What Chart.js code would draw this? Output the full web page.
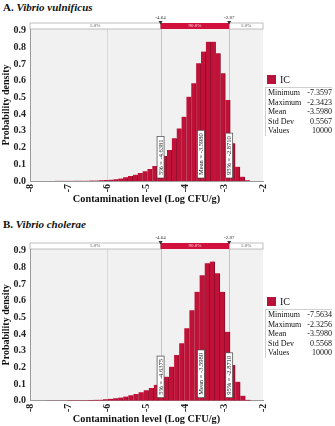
<!DOCTYPE html>
<html>
<head>
<meta charset="utf-8">
<script src="https://cdn.jsdelivr.net/npm/chart.js@4.4.1/dist/chart.umd.min.js"></script>
<style>
  body { margin: 0; width: 335px; height: 426px; position: relative; overflow: hidden; background: #fff;
         font-family: "Liberation Serif", "Times New Roman", serif; color: #111; }
  canvas { position: absolute; left: 0; }
  .ttl { position: absolute; left: 3px; font-weight: bold; font-size: 11px; line-height: 13px; }
  .ttl i { font-style: italic; }
  .leg { position: absolute; left: 267px; font-size: 10px; line-height: 10px; }
  .leg span { display: inline-block; width: 9px; height: 9px; background: #b8123a; vertical-align: -1px; margin-right: 4px; }
  .stats { position: absolute; left: 265px; width: 67px; box-sizing: border-box; border-top: 1px solid #d0d0d0;
           border-left: 1px solid #d0d0d0; font-size: 8px; line-height: 9.6px; padding-left: 2px; }
  .stats div { display: flex; justify-content: space-between; }
</style>
</head>
<body>
<div class="ttl" style="top:1px">A. <i>Vibrio vulnificus</i></div>
<canvas id="chartA" width="335" height="212" style="top:0"></canvas>
<div class="leg" style="top:75px"><span></span>IC</div>
<div class="stats" id="statsA" style="top:87px"></div>

<div class="ttl" style="top:218px">B. <i>Vibrio cholerae</i></div>
<canvas id="chartB" width="335" height="208" style="top:218px"></canvas>
<div class="leg" style="top:297px"><span></span>IC</div>
<div class="stats" id="statsB" style="top:309px"></div>

<script>
// --- data ---
const xRange = [-8, -2];
const statNames = ["Minimum", "Maximum", "Mean", "Std Dev", "Values"];

// A. Vibrio vulnificus (bin centres, density)
const vvBins = [-7.297, -7.172, -7.046, -6.921, -6.795, -6.670, -6.544, -6.419, -6.294, -6.168,
                -6.043, -5.917, -5.792, -5.666, -5.541, -5.415, -5.290, -5.165, -5.039, -4.914,
                -4.788, -4.663, -4.537, -4.412, -4.286, -4.161, -4.036, -3.910, -3.785, -3.659,
                -3.534, -3.408, -3.283, -3.157, -3.032, -2.906, -2.781, -2.656, -2.530, -2.405];
const vvDensity = [0.001, 0.001, 0.001, 0.001, 0.002, 0.002, 0.002, 0.003, 0.003, 0.004,
                   0.006, 0.008, 0.011, 0.015, 0.022, 0.030, 0.038, 0.048, 0.058, 0.072,
                   0.090, 0.120, 0.150, 0.186, 0.256, 0.315, 0.385, 0.505, 0.585, 0.705,
                   0.775, 0.834, 0.834, 0.765, 0.645, 0.485, 0.226, 0.086, 0.026, 0.004];
const vvMarks = [-4.6381, -3.5980, -2.8710];
const vvMarkText = ["5% = -4.6381", "Mean = -3.5980", "95% = -2.8710"];
const vvStats = ["-7.3597", "-2.3423", "-3.5980", "0.5567", "10000"];

// B. Vibrio cholerae
const vcBins = [-7.498, -7.367, -7.236, -7.105, -6.974, -6.843, -6.712, -6.581, -6.450, -6.319,
                -6.188, -6.057, -5.926, -5.795, -5.665, -5.534, -5.403, -5.272, -5.141, -5.010,
                -4.879, -4.748, -4.617, -4.486, -4.355, -4.224, -4.093, -3.962, -3.831, -3.700,
                -3.569, -3.438, -3.307, -3.176, -3.045, -2.914, -2.783, -2.652, -2.521, -2.390];
const vcDensity = [0.001, 0.001, 0.001, 0.001, 0.002, 0.002, 0.002, 0.003, 0.004, 0.005,
                   0.006, 0.008, 0.011, 0.014, 0.019, 0.025, 0.032, 0.040, 0.050, 0.062,
                   0.076, 0.095, 0.120, 0.144, 0.204, 0.274, 0.344, 0.434, 0.543, 0.653,
                   0.753, 0.825, 0.835, 0.765, 0.653, 0.413, 0.214, 0.114, 0.030, 0.005];
const vcMarks = [-4.6375, -3.5980, -2.8710];
const vcMarkText = ["5% = -4.6375", "Mean = -3.5980", "95% = -2.8710"];
const vcStats = ["-7.5634", "-2.3256", "-3.5980", "0.5568", "10000"];

const bandTicks = ["-4.64", "-2.87"];
const bandPct = ["5.0%", "90.0%", "5.0%"];

const serif = "'Liberation Serif', 'Times New Roman', serif";

function fillStats(id, vals) {
  document.getElementById(id).innerHTML = statNames
    .map((n, i) => `<div><span>${n}</span><span>${vals[i]}</span></div>`).join("");
}
fillStats("statsA", vvStats);
fillStats("statsB", vcStats);

// band on top, percentile lines, rotated value boxes
const overlay = {
  id: "overlay",
  beforeDraw(chart) {
    const { ctx, chartArea: a } = chart;
    ctx.save();
    ctx.fillStyle = "#f1f1f1";
    ctx.fillRect(a.left, a.top, a.right - a.left, a.bottom - a.top);
    ctx.restore();
  },
  beforeDatasetsDraw(chart, args, o) {
    const { ctx, chartArea: a, scales: { x } } = chart;
    ctx.save();
    ctx.strokeStyle = "#c4c4c4";
    ctx.lineWidth = 1;
    [o.marks[0], o.marks[2]].forEach(v => {
      const px = Math.round(x.getPixelForValue(v)) + 0.5;
      ctx.beginPath();
      ctx.moveTo(px, a.top);
      ctx.lineTo(px, a.bottom);
      ctx.stroke();
    });
    ctx.restore();
  },
  afterDatasetsDraw(chart, args, o) {
    const { ctx, chartArea: a, scales: { x } } = chart;
    const x5 = x.getPixelForValue(o.marks[0]);
    const x95 = x.getPixelForValue(o.marks[2]);
    const top = a.top - 6, h = 6;
    ctx.save();
    ctx.lineWidth = 0.8;
    ctx.fillStyle = "#fff";
    ctx.strokeStyle = "#b0b0b0";
    ctx.fillRect(a.left, top, x5 - a.left, h);
    ctx.strokeRect(a.left, top, x5 - a.left, h);
    ctx.fillRect(x95, top, a.right - x95, h);
    ctx.strokeRect(x95, top, a.right - x95, h);
    ctx.fillStyle = "#d1103b";
    ctx.fillRect(x5, top, x95 - x5, h);

    ctx.font = "5px " + serif;
    ctx.textAlign = "center";
    ctx.textBaseline = "middle";
    ctx.fillStyle = "#555";
    ctx.fillText(o.pct[0], (a.left + x5) / 2, top + h / 2);
    ctx.fillText(o.pct[2], (x95 + a.right) / 2, top + h / 2);
    ctx.fillStyle = "#fbd9e0";
    ctx.fillText(o.pct[1], (x5 + x95) / 2, top + h / 2);

    [x5, x95].forEach((px, i) => {
      ctx.fillStyle = "#333";
      ctx.beginPath();
      ctx.moveTo(px - 2, top - 2);
      ctx.lineTo(px + 2, top - 2);
      ctx.lineTo(px, top + 1.5);
      ctx.fill();
      ctx.fillText(o.ticks[i], px, top - 5);
    });

    // rotated value boxes
    ctx.font = "6.5px " + serif;
    o.marks.forEach((v, i) => {
      const px = x.getPixelForValue(v);
      const w = ctx.measureText(o.labels[i]).width + 6;
      ctx.save();
      ctx.translate(px, a.bottom - 3);
      ctx.rotate(-Math.PI / 2);
      ctx.fillStyle = "#fff";
      ctx.fillRect(0, -3.5, w, 7);
      ctx.strokeStyle = "#444";
      ctx.lineWidth = 0.7;
      ctx.strokeRect(0, -3.5, w, 7);
      ctx.fillStyle = "#111";
      ctx.textAlign = "left";
      ctx.textBaseline = "middle";
      ctx.fillText(o.labels[i], 3, 0.4);
      ctx.restore();
    });
    ctx.restore();
  }
};

function makeChart(id, bins, dens, marks, markText, padTop, padBottom) {
  return new Chart(document.getElementById(id), {
    type: "bar",
    data: {
      datasets: [{
        label: "IC",
        data: bins.map((b, i) => ({ x: b, y: dens[i] })),
        backgroundColor: "#c01238",
        borderColor: "#8c0b2a",
        borderWidth: { top: 0, right: 1, bottom: 0, left: 0 },
        barPercentage: 1,
        categoryPercentage: 1
      }]
    },
    options: {
      responsive: false,
      animation: false,
      layout: { padding: { top: padTop, right: 72, bottom: padBottom, left: 0 } },
      plugins: {
        legend: { display: false },
        tooltip: { enabled: false },
        overlay: { marks: marks, labels: markText, ticks: bandTicks, pct: bandPct }
      },
      scales: {
        x: {
          type: "linear",
          offset: false,
          min: xRange[0],
          max: xRange[1],
          afterFit: s => { s.height = 25; },
          grid: {
            offset: false,
            color: c => (c.tick && c.tick.value === -6 ? "#d8d8d8" : "rgba(0,0,0,0)"),
            drawTicks: false
          },
          border: { display: true, color: "#9a9a9a" },
          ticks: {
            stepSize: 1,
            autoSkip: false,
            minRotation: 90,
            maxRotation: 90,
            padding: 3,
            color: "#222",
            font: { family: serif, size: 10, weight: "bold" }
          },
          title: {
            display: true,
            text: "Contamination level (Log CFU/g)",
            padding: 0,
            color: "#111",
            font: { family: serif, size: 10.3, weight: "bold" }
          }
        },
        y: {
          min: 0,
          max: 0.91,
          afterFit: s => { s.width = 30; },
          grid: { display: false, drawTicks: false },
          border: { display: true, color: "#9a9a9a" },
          ticks: {
            stepSize: 0.1,
            includeBounds: false,
            padding: 4,
            color: "#222",
            font: { family: serif, size: 10, weight: "bold" },
            callback: v => v.toFixed(1)
          },
          title: {
            display: true,
            text: "Probability density",
            padding: 0,
            color: "#111",
            font: { family: serif, size: 10, weight: "bold" }
          }
        }
      }
    },
    plugins: [overlay]
  });
}

makeChart("chartA", vvBins, vvDensity, vvMarks, vvMarkText, 29, 6);
makeChart("chartB", vcBins, vcDensity, vcMarks, vcMarkText, 31, 0.3);
</script>
</body>
</html>
